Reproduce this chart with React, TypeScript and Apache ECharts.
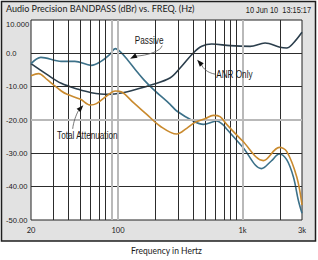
import { useEffect, useRef } from "react";
import * as echarts from "echarts";

// Frequency response curves (Hz, dBr)
const passiveHz = [20, 24, 35, 45, 61, 73, 86, 95, 104, 119, 141, 160, 192, 262, 296, 402, 484, 620, 700, 745, 1000, 1420, 1700, 1970, 2260, 2560, 2800, 3000];
const passiveDb = [-3.1, -1.2, -2.4, -2.4, -3.6, -2.4, -0.3, 1.4, 0.5, -1.9, -5.4, -7.8, -10.8, -15.3, -17.3, -20.3, -21.3, -20.3, -21.5, -22.7, -28.1, -34.6, -32.3, -30.2, -31.9, -37.1, -44, -48];

const anrHz = [20, 27, 35, 48, 61, 83, 106, 150, 181, 261, 315, 402, 470, 565, 794, 1148, 1516, 2000, 2260, 2560, 3000];
const anrDb = [-3.1, -6.4, -9.0, -10.8, -11.8, -12.3, -11.9, -10.5, -9.6, -7.4, -4.4, 0.1, 2.1, 2.8, 2.3, 2.1, 3.1, 1.8, 1.6, 3.1, 6.3];

const totalHz = [20, 23, 27, 30, 35, 39, 50, 60, 67, 81, 95, 107, 133, 170, 217, 296, 356, 415, 500, 582, 659, 745, 1000, 1468, 1970, 2260, 2724, 3000];
const totalDb = [-6.7, -6.1, -7.9, -9.3, -11.3, -12.3, -13.8, -15.5, -15.1, -12.8, -11.3, -11.6, -14.8, -18.3, -21.8, -24.2, -22.5, -20.7, -19.6, -18.6, -19.0, -21.3, -26.3, -32.2, -28.2, -29.4, -37.1, -45.5];

// Axis ticks and grid
const xLabelHz = [20, 100, 1000, 3000];
const gridHz = [30, 40, 50, 60, 70, 80, 200, 300, 400, 500, 600, 700, 800, 900, 2000];
const accentHz = [90, 100, 1000];
const gridDb = [0, -10, -30, -40];
const accentDb = [-20];

const SANS = "'Liberation Sans', Arial, sans-serif";
const HUMAN = "Lato, 'Open Sans', sans-serif";

const lg = (f: number) => Math.log10(f);
const pts = (hz: number[], db: number[]) => hz.map((f, i) => [lg(f), db[i]]);

export default function App() {
  const ref = useRef<HTMLDivElement>(null);

  useEffect(() => {
    if (!ref.current) return;
    const chart = echarts.init(ref.current, null, { renderer: "svg" });

    const dark = { color: "#2c2c2c", width: 1, type: "solid" as const };
    const accent = { color: "#b9b9b9", width: 2, type: "solid" as const };

    chart.setOption({
      animation: false,
      title: [
        {
          text: "Audio Precision BANDPASS (dBr) vs. FREQ. (Hz)",
          left: 6,
          top: 4,
          padding: 0,
          textStyle: { fontFamily: HUMAN, fontSize: 9, fontWeight: "normal", color: "#1a1a1a" },
        },
      ],
      grid: {
        left: 31,
        right: 16,
        top: 20,
        bottom: 38.3,
        show: true,
        backgroundColor: "#ffffff",
        borderColor: "#222222",
        borderWidth: 1,
      },
      xAxis: {
        type: "value",
        min: lg(20),
        max: lg(3000),
        name: "Frequency in Hertz",
        nameLocation: "middle",
        nameGap: 26,
        nameTextStyle: { fontFamily: HUMAN, fontSize: 8.5, color: "#1a1a1a" },
        axisLine: { show: false },
        axisTick: { show: false },
        splitLine: { show: false },
        axisLabel: {
          customValues: xLabelHz.map(lg),
          margin: 6,
          fontFamily: HUMAN,
          fontSize: 7.5,
          color: "#1a1a1a",
          formatter: (v: number) => {
            const f = Math.round(Math.pow(10, v));
            return f >= 1000 ? `${f / 1000}k` : `${f}`;
          },
        },
      },
      yAxis: {
        type: "value",
        min: -50,
        max: 10,
        interval: 10,
        axisLine: { show: false },
        axisTick: { show: false },
        splitLine: { show: false },
        axisLabel: {
          align: "left",
          margin: 25,
          fontFamily: SANS,
          fontSize: 7.6,
          color: "#1a1a1a",
          formatter: (v: number) => (v === 10 ? "{top|10.000}" : v === 0 ? "0.0" : v.toFixed(2)),
          rich: { top: { padding: [9, 0, 0, 0], fontFamily: SANS, fontSize: 7.6, color: "#1a1a1a" } },
        },
      },
      series: [
        {
          type: "line",
          name: "grid",
          z: 1,
          silent: true,
          data: [],
          markLine: {
            silent: true,
            symbol: "none",
            label: { show: false },
            lineStyle: dark,
            data: [
              ...gridHz.map((f) => ({ xAxis: lg(f), lineStyle: dark })),
              ...gridDb.map((d) => ({ yAxis: d, lineStyle: dark })),
              ...accentHz.map((f) => ({ xAxis: lg(f), lineStyle: accent })),
              ...accentDb.map((d) => ({ yAxis: d, lineStyle: accent })),
            ],
          },
        },
        {
          type: "line",
          name: "ANR Only",
          z: 3,
          data: pts(anrHz, anrDb),
          smooth: 0.35,
          showSymbol: false,
          lineStyle: { color: "#2b3e4c", width: 1.6 },
        },
        {
          type: "line",
          name: "Passive",
          z: 4,
          data: pts(passiveHz, passiveDb),
          smooth: 0.35,
          showSymbol: false,
          lineStyle: { color: "#3c7189", width: 1.6 },
        },
        {
          type: "line",
          name: "Total Attenuation",
          z: 5,
          data: pts(totalHz, totalDb),
          smooth: 0.35,
          showSymbol: false,
          lineStyle: { color: "#c98a2e", width: 1.6 },
        },
      ],
    });

    // Callout labels with leader arrows, anchored on the curves
    const px = (f: number, d: number) => chart.convertToPixel({ gridIndex: 0 }, [lg(f), d]) as number[];
    const arrowHead = (tx: number, ty: number, bx: number, by: number) => {
      const dx = tx - bx;
      const dy = ty - by;
      const len = Math.hypot(dx, dy) || 1;
      const ux = dx / len;
      const uy = dy / len;
      const L = 7;
      const W = 2.6;
      const baseX = tx - ux * L;
      const baseY = ty - uy * L;
      return {
        type: "polygon",
        silent: true,
        z: 20,
        shape: {
          points: [
            [tx, ty],
            [baseX - uy * W, baseY + ux * W],
            [baseX + uy * W, baseY - ux * W],
          ],
        },
        style: { fill: "#111111" },
      };
    };
    const leader = (p: number[][]) => ({
      type: "bezierCurve",
      silent: true,
      z: 19,
      shape: { x1: p[0][0], y1: p[0][1], cpx1: p[1][0], cpy1: p[1][1], cpx2: p[2][0], cpy2: p[2][1], x2: p[3][0], y2: p[3][1] },
      style: { stroke: "#555555", lineWidth: 0.8, fill: "none" },
    });
    // Condensed sans label: regular face squeezed horizontally
    const label = (text: string, x: number, y: number, align: string, size = 10) => ({
      type: "text",
      silent: true,
      z: 20,
      x,
      y,
      scaleX: 0.82,
      style: { text, fontFamily: SANS, fontSize: size, fill: "#1a1a1a", align, verticalAlign: "middle" },
    });

    const [pX, pY] = px(125, -1.6);
    const [aX, aY] = px(432, -1.9);
    const [tX, tY] = px(52.6, -15.6);

    chart.setOption({
      graphic: [
        {
          type: "rect",
          silent: true,
          z: -10,
          shape: { x: 1.5, y: 1.5, width: 314, height: 239.5 },
          style: { fill: "#e2e2e2", stroke: "#1e1e1e", lineWidth: 1.5 },
        },
        label("10 Jun 10  13:15:17", 311, 10, "right", 9),
        label("Passive", pX + 19, pY - 18, "center"),
        leader([[pX + 32, pY - 13], [pX + 31, pY - 8], [pX + 18, pY - 3], [pX + 5, pY - 2.5]]),
        arrowHead(pX, pY, pX + 5, pY - 2.5),
        label("ANR Only", aX + 19, aY + 15, "left"),
        leader([[aX + 18, aY + 14.5], [aX + 10, aY + 13], [aX + 6, aY + 9], [aX + 4.2, aY + 4.8]]),
        arrowHead(aX, aY, aX + 4.2, aY + 4.8),
        label("Total Attenuation", tX + 4, tY + 30, "center"),
        leader([[tX - 10.6, tY + 23.5], [tX - 10, tY + 17], [tX - 7, tY + 9], [tX - 4.8, tY + 5.2]]),
        arrowHead(tX, tY, tX - 4.8, tY + 5.2),
      ],
    });

    return () => chart.dispose();
  }, []);

  return <div ref={ref} style={{ position: "fixed", left: 0, top: 0, width: 318, height: 260, background: "#ffffff" }} />;
}
